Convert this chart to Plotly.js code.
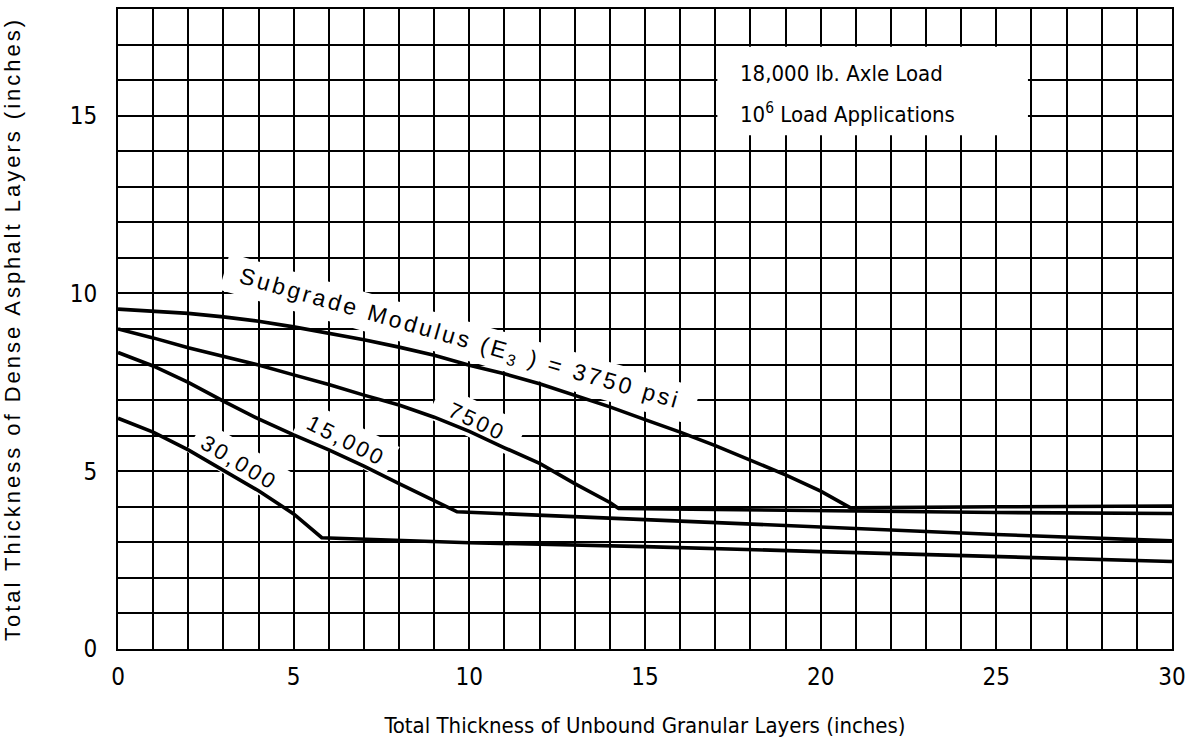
<!DOCTYPE html>
<html>
<head>
<meta charset="utf-8">
<script src="https://cdn.plot.ly/plotly-3.0.1.min.js"></script>
<style>
  html, body { margin: 0; padding: 0; background: #ffffff; }
  #chart { width: 1192px; height: 740px; }
</style>
</head>
<body>
<div id="chart"></div>
<script>
// ---- Data ----
const x3750  = [0, 1, 2, 3, 4, 5, 6, 7, 8, 9, 10, 11, 12, 13, 14, 15, 16, 17, 18, 19, 20, 20.85, 25, 30];
const y3750  = [9.56, 9.51, 9.44, 9.34, 9.22, 9.06, 8.88, 8.70, 8.49, 8.26, 7.98, 7.74, 7.46, 7.13, 6.81, 6.45, 6.10, 5.72, 5.32, 4.90, 4.44, 3.97, 4.00, 4.02];

const x7500  = [0, 1, 2, 3, 4, 5, 6, 7, 8, 9, 10, 11, 12, 13, 14, 14.25, 20.85, 25, 30];
const y7500  = [9.00, 8.75, 8.47, 8.24, 7.99, 7.71, 7.44, 7.14, 6.86, 6.52, 6.12, 5.66, 5.22, 4.65, 4.12, 3.95, 3.87, 3.84, 3.81];

const x15000 = [0, 1, 2, 3, 4, 5, 6, 7, 8, 9, 9.65, 15, 20, 25, 30];
const y15000 = [8.34, 7.96, 7.50, 6.97, 6.47, 6.02, 5.60, 5.14, 4.65, 4.17, 3.86, 3.64, 3.42, 3.22, 3.04];

const x30000 = [0, 1, 2, 3, 4, 5, 5.8, 10, 15, 20, 25, 30];
const y30000 = [6.49, 6.10, 5.60, 5.03, 4.45, 3.80, 3.13, 2.99, 2.88, 2.74, 2.60, 2.46];

const curveLabels = ['Subgrade Modulus (E<sub>3</sub> ) = 3750 psi', '7500', '15,000', '30,000'];
const xTickVals = [0, 5, 10, 15, 20, 25, 30];
const yTickVals = [0, 5, 10, 15];
const noteLines = ['18,000 lb. Axle Load', '10<sup>6</sup> Load Applications'];
const xTitle = 'Total Thickness of Unbound Granular Layers (inches)';
const yTitle = 'Total Thickness of Dense Asphalt Layers (inches)';

// ---- Layout helpers ----
const W = 1192, H = 740;
const M = { l: 118, r: 20, t: 9, b: 91 };
const XR = [0, 30], YR = [0, 18];
const pxX = (W - M.l - M.r) / (XR[1] - XR[0]);
const pxY = (H - M.t - M.b) / (YR[1] - YR[0]);
const toX = px => (px - M.l) / pxX;
const toY = py => (H - M.b - py) / pxY;

const narrow = 'Liberation Sans Narrow, Arial Narrow, DejaVu Sans Condensed, sans-serif';
const regular = 'Liberation Sans, Arial, Helvetica, sans-serif';

// white band behind a rotated label (covers grid only; drawn below the traces)
function band(cxp, cyp, w, h, angDeg) {
  const a = angDeg * Math.PI / 180;
  const c = Math.cos(a), s = Math.sin(a);
  const pts = [[-w/2, -h/2], [w/2, -h/2], [w/2, h/2], [-w/2, h/2]].map(([u, v]) =>
    [cxp + u * c - v * s, cyp + u * s + v * c]);
  const d = 'M ' + pts.map(p => toX(p[0]).toFixed(4) + ',' + toY(p[1]).toFixed(4)).join(' L ') + ' Z';
  return { type: 'path', path: d, xref: 'x', yref: 'y', fillcolor: '#ffffff',
           line: { width: 0 }, layer: 'between' };
}

const lineStyle = { color: '#000000', width: 3.6 };
const traces = [
  { x: x3750, y: y3750, mode: 'lines', line: lineStyle, name: '3750', hoverinfo: 'skip' },
  { x: x7500, y: y7500, mode: 'lines', line: lineStyle, name: '7500', hoverinfo: 'skip' },
  { x: x15000, y: y15000, mode: 'lines', line: lineStyle, name: '15000', hoverinfo: 'skip' },
  { x: x30000, y: y30000, mode: 'lines', line: lineStyle, name: '30000', hoverinfo: 'skip' }
];

// label placements (pixel centres / angles)
const labelPos = [
  { px: 460, py: 339, ang: 16, w: 490, h: 38, size: 23 },
  { px: 477, py: 421, ang: 25, w: 94, h: 36, size: 22 },
  { px: 346, py: 440, ang: 27, w: 102, h: 36, size: 22 },
  { px: 239, py: 462, ang: 31, w: 102, h: 36, size: 22 }
];

const annotations = curveLabels.map((t, i) => ({
  x: toX(labelPos[i].px), y: toY(labelPos[i].py), xref: 'x', yref: 'y',
  text: '<span style="letter-spacing:3px">' + t + '</span>',
  showarrow: false, textangle: labelPos[i].ang,
  font: { family: regular, size: labelPos[i].size, color: '#000000' }
}));

noteLines.forEach((t, i) => {
  annotations.push({
    x: toX(738), y: toY(i === 0 ? 73 : 113), xref: 'x', yref: 'y',
    xanchor: 'left', yanchor: 'middle', showarrow: false,
    text: t, font: { family: narrow, size: 22, color: '#000000' }
  });
});

const shapes = labelPos.map(p => band(p.px, p.py, p.w, p.h, p.ang));
shapes.push({ type: 'rect', xref: 'x', yref: 'y', x0: 17.06, x1: 25.9, y0: 14.45, y1: 16.94,
              fillcolor: '#ffffff', line: { width: 0 }, layer: 'between' });

const gridCol = '#000000';
const layout = {
  width: W, height: H,
  margin: M,
  paper_bgcolor: '#ffffff', plot_bgcolor: '#ffffff',
  showlegend: false,
  xaxis: {
    range: XR, tickvals: xTickVals, ticktext: xTickVals.map(String),
    showgrid: true, gridcolor: gridCol, gridwidth: 2,
    minor: { dtick: 1, showgrid: true, gridcolor: gridCol, gridwidth: 2 },
    showline: true, linecolor: gridCol, linewidth: 2, mirror: true,
    zeroline: false, ticks: '', ticklabelstandoff: 5,
    tickfont: { family: narrow, size: 24, color: '#000000' },
    title: { text: xTitle, standoff: 28, font: { family: narrow, size: 22, color: '#000000' } }
  },
  yaxis: {
    range: YR, tickvals: yTickVals, ticktext: yTickVals.map(String),
    showgrid: true, gridcolor: gridCol, gridwidth: 2,
    minor: { dtick: 1, showgrid: true, gridcolor: gridCol, gridwidth: 2 },
    showline: true, linecolor: gridCol, linewidth: 2, mirror: true,
    zeroline: false, ticks: '', ticklabelstandoff: 14,
    tickfont: { family: narrow, size: 24, color: '#000000' },
    title: { text: '<span style="letter-spacing:3px">' + yTitle + '</span>', standoff: 48,
             font: { family: regular, size: 22, color: '#000000' } }
  },
  shapes: shapes,
  annotations: annotations
};

Plotly.newPlot('chart', traces, layout, { staticPlot: true, displayModeBar: false });
</script>
</body>
</html>
